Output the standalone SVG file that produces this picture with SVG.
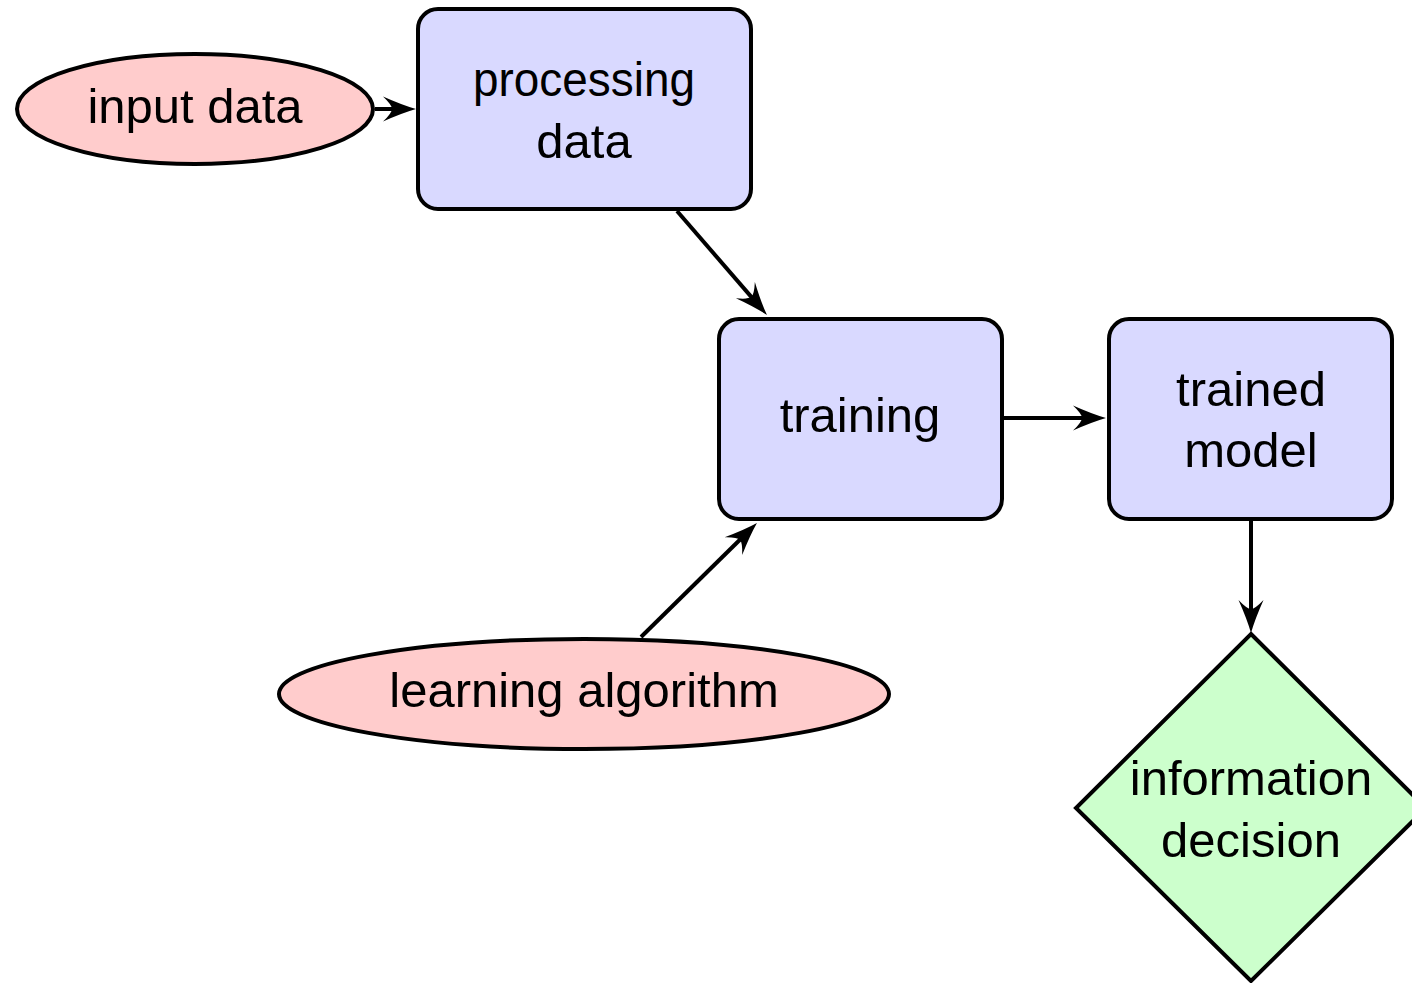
<svg xmlns="http://www.w3.org/2000/svg" width="1412" height="983" viewBox="0 0 1412 983">
<style>
.box{fill:#d9d9ff;stroke:#000;stroke-width:4}
.ell{fill:#ffcccc;stroke:#000;stroke-width:4}
.dia{fill:#ccffcc;stroke:#000;stroke-width:4}
.lbl{font-family:"Liberation Sans",Arial,sans-serif;font-size:49px;fill:#000;text-anchor:middle}
.edge{stroke:#000;stroke-width:4;fill:none;marker-end:url(#arr)}
</style>
<defs>
<marker id="arr" markerUnits="userSpaceOnUse" orient="auto" refX="0" refY="0" markerWidth="40" markerHeight="40" style="overflow:visible">
<path d="M20,0 Q6,-4 -13,-12.5 Q-4,-4 -4,0 Q-4,4 -13,12.5 Q6,4 20,0 Z" fill="#000"/>
</marker>
</defs>
<rect width="1412" height="983" fill="#fff"/>
<g id="connectors">
<line class="edge" x1="375" y1="109" x2="396" y2="109"/>
<line class="edge" x1="677" y1="211" x2="753.9" y2="299.9"/>
<line class="edge" x1="641" y1="637" x2="742.7" y2="537"/>
<line class="edge" x1="1004" y1="418" x2="1086" y2="418"/>
<line class="edge" x1="1251" y1="521" x2="1251" y2="613"/>
</g>
<g id="input-data">
<ellipse class="ell" cx="195" cy="109" rx="178" ry="55"/>
<text class="lbl" x="195" y="123">input data</text>
</g>
<g id="processing-data">
<rect class="box" x="418" y="9" width="333" height="200" rx="20"/>
<text class="lbl" x="584" y="96" textLength="222" lengthAdjust="spacingAndGlyphs">processing</text>
<text class="lbl" x="584" y="158">data</text>
</g>
<g id="training">
<rect class="box" x="719" y="319" width="283" height="200" rx="20"/>
<text class="lbl" x="860" y="432">training</text>
</g>
<g id="trained-model">
<rect class="box" x="1109" y="319" width="283" height="200" rx="20"/>
<text class="lbl" x="1251" y="406">trained</text>
<text class="lbl" x="1251" y="467">model</text>
</g>
<g id="learning-algorithm">
<ellipse class="ell" cx="584" cy="694" rx="305" ry="55"/>
<text class="lbl" x="584" y="707">learning algorithm</text>
</g>
<g id="information-decision">
<polygon class="dia" points="1251,634 1426,808 1251,981 1076,808"/>
<text class="lbl" x="1251" y="795">information</text>
<text class="lbl" x="1251" y="857">decision</text>
</g>
</svg>
